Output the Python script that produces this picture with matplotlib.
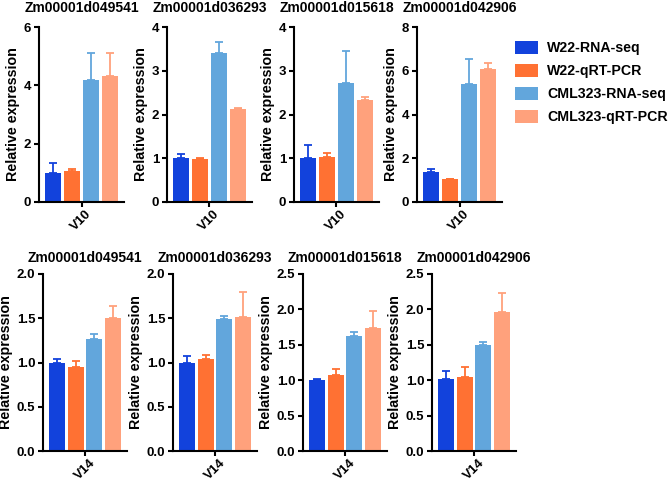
import numpy as np
import matplotlib
matplotlib.use('Agg')
import matplotlib.pyplot as plt
from matplotlib.patches import Patch

plt.rcParams['font.family'] = ['Liberation Sans', 'DejaVu Sans']
plt.rcParams['font.weight'] = 'bold'

genes = ['Zm00001d049541', 'Zm00001d036293', 'Zm00001d015618', 'Zm00001d042906']
series = ['W22-RNA-seq', 'W22-qRT-PCR', 'CML323-RNA-seq', 'CML323-qRT-PCR']
colors = ['#1242DC', '#FF7133', '#62A6DC', '#FFA17C']

# V10 stage (top row)
v10_mean = [[1.00, 1.06, 4.19, 4.32],
            [1.01, 0.99, 3.41, 2.12],
            [1.01, 1.04, 2.72, 2.33],
            [1.37, 1.03, 5.39, 6.07]]
v10_err = [[0.34, 0.08, 0.91, 0.80],
           [0.08, 0.02, 0.25, 0.04],
           [0.30, 0.08, 0.72, 0.08],
           [0.13, 0.03, 1.17, 0.30]]
v10_ymax = [6, 4, 4, 8]
v10_step = [2, 1, 1, 2]

# V14 stage (bottom row)
v14_mean = [[1.00, 0.95, 1.26, 1.50],
            [1.00, 1.045, 1.49, 1.51],
            [1.00, 1.08, 1.63, 1.74],
            [1.01, 1.04, 1.50, 1.97]]
v14_err = [[0.04, 0.065, 0.06, 0.14],
           [0.07, 0.045, 0.03, 0.29],
           [0.02, 0.085, 0.05, 0.24],
           [0.12, 0.15, 0.04, 0.26]]
v14_ymax = [2.0, 2.0, 2.5, 2.5]
v14_step = [0.5, 0.5, 0.5, 0.5]

W, H = 669, 482
fig = plt.figure(figsize=(W / 100, H / 100), dpi=100)

top_left = [39, 167, 294, 417]
bot_left = [43, 173, 303, 432]


def panel(left_px, top_px, bottom_px, width_px, gene, means, errs, ymax, step, stage, decimals, tpad):
    ax = fig.add_axes([left_px / W, (H - bottom_px) / H, width_px / W, (bottom_px - top_px) / H])
    x = np.arange(4)
    for i in range(4):
        ax.bar(x[i], means[i], width=0.84, color=colors[i], zorder=2)
        ax.errorbar(x[i], means[i], yerr=[[0], [errs[i]]], fmt='none', ecolor=colors[i],
                    elinewidth=1.3, capsize=2.6, capthick=1.3, zorder=1)
    ax.set_xlim(-0.75, 3.75)
    ax.set_ylim(0, ymax)
    ticks = np.arange(0, ymax + step / 2, step)
    ax.set_yticks(ticks)
    if decimals:
        ax.set_yticklabels(['%.1f' % v for v in ticks])
    else:
        ax.set_yticklabels(['%d' % v for v in ticks])
    ax.set_xticks([1.5])
    ax.set_xticklabels([stage], rotation=45, ha='center')
    for s in ['top', 'right']:
        ax.spines[s].set_visible(False)
    for s in ['left', 'bottom']:
        ax.spines[s].set_linewidth(1.5)
    ax.tick_params(width=1.5, length=3.5, labelsize=9.5, pad=2)
    ax.tick_params(axis='x', pad=1)
    ax.set_ylabel('Relative expression', fontsize=10.3, fontweight='bold', labelpad=3)
    ax.set_title(gene, fontsize=10, fontweight='bold', pad=tpad)
    return ax


for k in range(4):
    panel(top_left[k], 27, 202, 85, genes[k], v10_mean[k], v10_err[k],
          v10_ymax[k], v10_step[k], 'V10', False, 11)
    panel(bot_left[k], 274, 451, 84, genes[k], v14_mean[k], v14_err[k],
          v14_ymax[k], v14_step[k], 'V14', True, 9)

handles = [Patch(facecolor=c, edgecolor='none') for c in colors]
fig.legend(handles, series, loc='upper left', bbox_to_anchor=(515 / W, 1 - 41 / H),
           frameon=False, borderpad=0, borderaxespad=0, handlelength=1.6,
           handleheight=1.0, handletextpad=0.65, labelspacing=0.62,
           prop={'size': 10.2, 'weight': 'bold'})

fig.savefig('out.png', dpi=100)
